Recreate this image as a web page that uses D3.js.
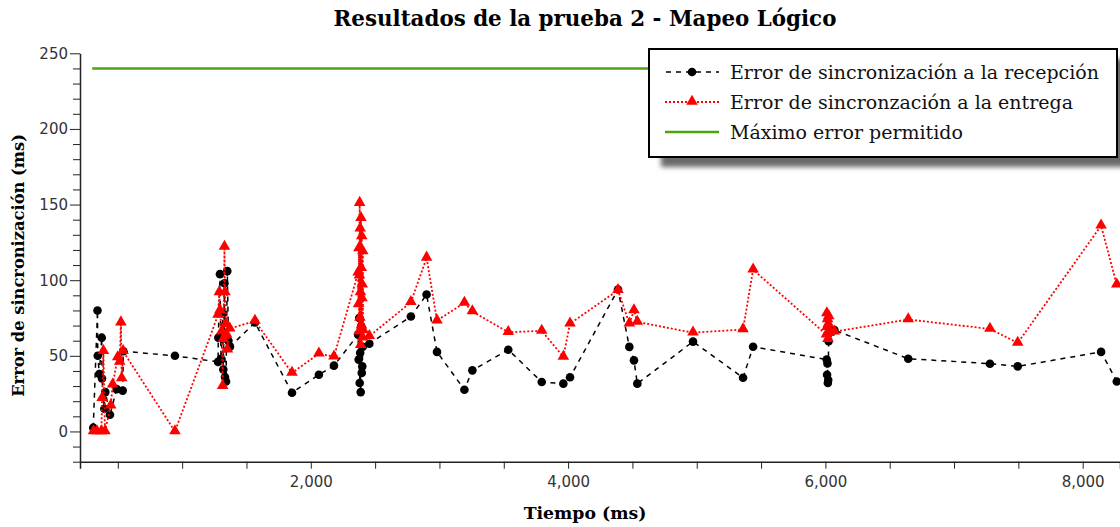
<!DOCTYPE html>
<html>
<head>
<meta charset="utf-8">
<script src="https://cdn.jsdelivr.net/npm/d3@7"></script>
<style>
  body { margin: 0; background: #fff; }
  svg { display: block; }
</style>
</head>
<body>
<svg id="chart" width="1120" height="527"></svg>
<script>
// Error de sincronización a la recepción (tiempo en ms, error en ms)
const recepcionTiempo = [309, 342, 344, 356, 375, 377, 395, 403, 439, 491, 538, 543,
  944, 1279, 1281, 1294, 1302, 1315, 1320, 1329, 1333, 1341, 1351, 1360, 1372,
  1566, 1854, 2063, 2180,
  2368, 2372, 2376, 2380, 2384, 2388, 2392, 2396, 2400, 2404, 2455,
  2778, 2900, 2981, 3194, 3256, 3535, 3795, 3963, 4015, 4388, 4476, 4512, 4538,
  4971, 5360, 5438,
  6010, 6013, 6016, 6019, 6022, 6025, 6070,
  6644, 7279, 7495, 8143, 8265];
const recepcionError = [2.5, 80, 50, 38, 62, 35, 15, 26, 11, 28, 27, 53,
  50, 46, 62, 104, 48, 78, 41, 98, 36, 33, 106, 60, 56,
  72, 25.6, 37.5, 43.5,
  64, 47.5, 75, 32, 52, 26, 69.5, 38.7, 43, 56, 58,
  76, 90.5, 52.6, 27.6, 40.4, 54, 32.7, 31.6, 35.8, 93.8, 55.9, 47, 31.6,
  59.4, 35.5, 56,
  47.5, 37.5, 45, 32, 34, 59.6, 67,
  48.1, 44.8, 43, 52.6, 33];

// Error de sincronización a la entrega
const entregaTiempo = [311, 338, 372, 378, 388, 400, 445, 460, 499, 515, 524, 530, 541,
  944, 1279, 1289, 1294, 1307, 1315, 1320, 1329, 1333, 1341, 1346, 1352, 1370,
  1566, 1854, 2063, 2180,
  2368, 2371, 2374, 2376, 2378, 2380, 2382, 2384, 2386, 2388, 2390, 2392, 2394,
  2396, 2398, 2400, 2402, 2404, 2406, 2455,
  2778, 2900, 2981, 3194, 3256, 3535, 3795, 3963, 4015, 4388, 4476, 4512, 4538,
  4971, 5360, 5438,
  6008, 6011, 6014, 6017, 6020, 6023, 6026, 6029, 6070,
  6644, 7279, 7495, 8143, 8265];
const entregaError = [0, 0, 0, 22, 53, 0, 17, 31, 49, 46, 72, 35, 53,
  0, 77, 92, 80, 66, 30, 61, 122, 92, 71, 64, 54, 68,
  73, 38.7, 51.4, 49.4,
  105, 84, 121, 66, 103, 151, 75, 134, 92, 57, 141, 108, 70,
  129, 88, 97, 62, 119, 67, 63,
  85.4, 114.8, 73.3, 85, 79.3, 65.6, 66.5, 49.3, 71.3, 93.4, 71.3, 80, 72.4,
  65.3, 67.4, 107,
  64, 78, 69, 74, 61, 71, 76, 65, 66,
  74, 67.8, 58.5, 136, 97];

// Máximo error permitido
const maximoError = 240;

const xMajorTicks = [2000, 4000, 6000, 8000];
const yMajorTicks = [0, 50, 100, 150, 200, 250];

const titulo = "Resultados de la prueba 2 - Mapeo Lógico";
const tituloX = "Tiempo (ms)";
const tituloY = "Error de sincronización (ms)";
const leyenda = [
  "Error de sincronización a la recepción",
  "Error de sincronzación a la entrega",
  "Máximo error permitido"
];

const svg = d3.select("#chart");
const serif = "'DejaVu Serif', serif";
const sans = "'DejaVu Sans', sans-serif";

const plot = { left: 80, right: 1120, top: 53.3, bottom: 461.7 };

const x = d3.scaleLinear().domain([206, 8290]).range([plot.left, plot.right]);
const y = d3.scaleLinear().domain([-20, 250]).range([plot.bottom, plot.top]);

const recepcion = recepcionTiempo.map((t, i) => ({ t, v: recepcionError[i] }));
const entrega = entregaTiempo.map((t, i) => ({ t, v: entregaError[i] }));

// Title
svg.append("text")
  .attr("x", 585).attr("y", 26)
  .attr("text-anchor", "middle")
  .style("font-family", serif).style("font-weight", "bold").style("font-size", "21.4px")
  .text(titulo);

// X axis: minor every 500, labels at multiples of 2000
const xMinor = d3.range(500, 8290, 500);
const xAxis = svg.append("g")
  .attr("transform", `translate(0,${plot.bottom})`)
  .call(d3.axisBottom(x).tickValues(xMinor).tickSizeOuter(0).tickSize(7)
    .tickFormat(d => xMajorTicks.includes(d) ? d3.format(",")(d) : ""));
xAxis.select(".domain").attr("stroke", "#222").attr("stroke-width", 1.5);
xAxis.selectAll(".tick line").attr("stroke", "#222");
xAxis.selectAll(".tick text")
  .attr("y", 15)
  .style("font-family", sans).style("font-size", "15px").attr("fill", "#333");

// Y axis: minor every 10, labels every 50
const yMinor = d3.range(-20, 251, 10);
const yAxis = svg.append("g")
  .attr("transform", `translate(${plot.left},0)`)
  .call(d3.axisLeft(y).tickValues(yMinor).tickSizeOuter(0)
    .tickFormat(d => yMajorTicks.includes(d) ? d : ""));
yAxis.select(".domain").attr("stroke", "#222").attr("stroke-width", 1.5);
yAxis.selectAll(".tick line")
  .attr("stroke", "#222")
  .attr("x2", d => yMajorTicks.includes(d) ? -10 : -7);
yAxis.selectAll(".tick text")
  .attr("x", -12)
  .style("font-family", sans).style("font-size", "15px").attr("fill", "#333");

// Axis titles
svg.append("text")
  .attr("x", 585).attr("y", 519)
  .attr("text-anchor", "middle")
  .style("font-family", serif).style("font-weight", "bold").style("font-size", "17.3px")
  .text(tituloX);
svg.append("text")
  .attr("transform", `translate(24,${(plot.top + plot.bottom) / 2 + 8}) rotate(-90)`)
  .attr("text-anchor", "middle")
  .style("font-family", serif).style("font-weight", "bold").style("font-size", "16.3px")
  .text(tituloY);

// Maximum allowed error
const tExtent = d3.extent(recepcionTiempo.concat(entregaTiempo));
svg.append("line")
  .attr("x1", x(tExtent[0] - 8)).attr("x2", x(tExtent[1]))
  .attr("y1", y(maximoError)).attr("y2", y(maximoError))
  .attr("stroke", "#4ea40e").attr("stroke-width", 2.5);

const line = d3.line().x(d => x(d.t)).y(d => y(d.v));

// Reception series: dashed black line with dots
svg.append("path").datum(recepcion)
  .attr("d", line)
  .attr("fill", "none").attr("stroke", "#000")
  .attr("stroke-width", 1.5).attr("stroke-dasharray", "5,5");
svg.append("g").selectAll("circle").data(recepcion).join("circle")
  .attr("cx", d => x(d.t)).attr("cy", d => y(d.v)).attr("r", 4.3)
  .attr("fill", "#000");

// Delivery series: dotted red line with triangles
const tri = d3.symbol().type(d3.symbolTriangle).size(58);
svg.append("path").datum(entrega)
  .attr("d", line)
  .attr("fill", "none").attr("stroke", "#f00")
  .attr("stroke-width", 1.8).attr("stroke-dasharray", "2,2");
svg.append("g").selectAll("path").data(entrega).join("path")
  .attr("d", tri)
  .attr("transform", d => `translate(${x(d.t)},${y(d.v) - 0.5})`)
  .attr("fill", "#f00");

// Legend with drop shadow
const defs = svg.append("defs");
defs.append("filter").attr("id", "sombra")
  .attr("x", "-10%").attr("y", "-20%").attr("width", "130%").attr("height", "150%")
  .append("feGaussianBlur").attr("stdDeviation", 2.5);

const lg = svg.append("g").attr("transform", "translate(649,49)");
const lgW = 468, lgH = 108;
lg.append("rect")
  .attr("x", 12).attr("y", 10).attr("width", lgW).attr("height", lgH)
  .attr("fill", "#6a6a6a").attr("filter", "url(#sombra)");
lg.append("rect")
  .attr("width", lgW).attr("height", lgH)
  .attr("fill", "#fff").attr("stroke", "#000").attr("stroke-width", 2);

const rows = [23, 53, 83];
// row 1
lg.append("line").attr("x1", 16).attr("x2", 70).attr("y1", rows[0]).attr("y2", rows[0])
  .attr("stroke", "#000").attr("stroke-width", 1.5).attr("stroke-dasharray", "5,5")
  .attr("stroke-dashoffset", -1);
lg.append("circle").attr("cx", 43).attr("cy", rows[0]).attr("r", 4.3).attr("fill", "#000");
// row 2
lg.append("line").attr("x1", 16).attr("x2", 70).attr("y1", rows[1]).attr("y2", rows[1])
  .attr("stroke", "#f00").attr("stroke-width", 1.8).attr("stroke-dasharray", "2,2");
lg.append("path").attr("d", tri).attr("transform", `translate(43,${rows[1] - 0.5})`).attr("fill", "#f00");
// row 3
lg.append("line").attr("x1", 16).attr("x2", 70).attr("y1", rows[2]).attr("y2", rows[2])
  .attr("stroke", "#4ea40e").attr("stroke-width", 2.5);

lg.selectAll("text.etiqueta").data(leyenda).join("text")
  .attr("class", "etiqueta")
  .attr("x", 81).attr("y", (d, i) => rows[i] + 6.5)
  .style("font-family", serif).style("font-size", "19px").attr("fill", "#111")
  .text(d => d);
</script>
</body>
</html>
